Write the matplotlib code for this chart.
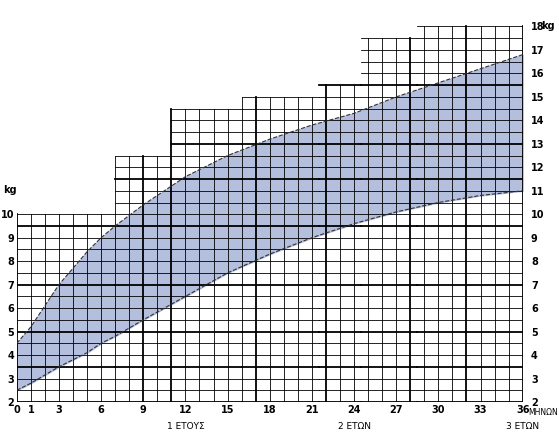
import numpy as np
import matplotlib.pyplot as plt

months = [0, 1, 3, 5, 6, 7, 9, 12, 15, 18, 21, 24, 27, 30, 33, 36]
upper = [4.5, 5.2, 7.0, 8.4, 9.0, 9.5, 10.4, 11.6, 12.5, 13.2, 13.8, 14.3, 15.0, 15.6, 16.2, 16.8]
lower = [2.5, 2.8, 3.5, 4.1, 4.5, 4.8, 5.5, 6.5, 7.5, 8.3, 9.0, 9.6, 10.1, 10.5, 10.8, 11.0]

# grid top (kg) for each month column
step_x = [0, 7, 11, 16, 21.5, 24.5, 28.5, 36]
step_top = [10, 12.5, 14.5, 15, 15.5, 17.5, 18]

xticks = [0, 1, 3, 6, 9, 12, 15, 18, 21, 24, 27, 30, 33, 36]
thick_x = [9, 11, 17, 22, 28, 32, 36]
thick_y = [3.5, 5, 7, 9.5, 11.5, 13, 15.5]

fig = plt.figure(figsize=(5.59, 4.36), dpi=100)
ax = fig.add_axes([0.030, 0.078, 0.905, 0.872])
ax.set_xlim(0, 36)
ax.set_ylim(2, 18.2)

def top_at(x):
    for i in range(len(step_top)):
        if step_x[i] <= x < step_x[i + 1]:
            return step_top[i]
    return step_top[-1]

for m in range(0, 37):
    t = max(top_at(m - 0.01) if m > 0 else 0, top_at(m))
    ax.plot([m, m], [2, t], color='black', lw=1.3 if m in thick_x or m == 0 else 0.6, zorder=3)
for i in range(len(step_top)):
    y = 2.0
    while y <= step_top[i] + 1e-6:
        lw = 1.3 if y in thick_y or y == 2 else 0.6
        ax.plot([step_x[i], step_x[i + 1]], [y, y], color='black', lw=lw, zorder=3)
        y += 0.5

ax.fill_between(months, lower, upper, color='#b4bedd', zorder=2)
ax.plot(months, upper, color='#333333', lw=0.8, ls='--', zorder=4)
ax.plot(months, lower, color='#333333', lw=0.8, ls='--', zorder=4)

for s in ax.spines.values():
    s.set_visible(False)
ax.set_xticks(xticks)
ax.set_xticklabels([str(x) for x in xticks], fontsize=7, fontweight='bold')
ax.tick_params(axis='x', length=0, pad=2)
ax.set_yticks(range(2, 11))
ax.set_yticklabels([str(v) for v in range(2, 11)], fontsize=7, fontweight='bold')
ax.tick_params(axis='y', length=0, pad=2)
ax2 = ax.twinx()
ax2.set_ylim(ax.get_ylim())
for s in ax2.spines.values():
    s.set_visible(False)
ax2.set_yticks(range(2, 19))
ax2.set_yticklabels([str(v) for v in range(2, 19)], fontsize=7, fontweight='bold')
ax2.tick_params(axis='y', length=0, pad=6)

ax.text(-0.5, 10.9, 'kg', fontsize=7, fontweight='bold', ha='center')
ax.text(37.3, 18.0, 'kg', fontsize=7, fontweight='bold', va='center')
ax.text(36.4, 1.55, 'ΜΗΝΩΝ', fontsize=5.5, va='center', ha='left')
for x, lab in [(12, '1 ΕΤΟΥΣ'), (24, '2 ΕΤΩΝ'), (36, '3 ΕΤΩΝ')]:
    ax.text(x, 0.95, lab, fontsize=6.5, ha='center', va='center')

fig.savefig('out.png', dpi=100)
